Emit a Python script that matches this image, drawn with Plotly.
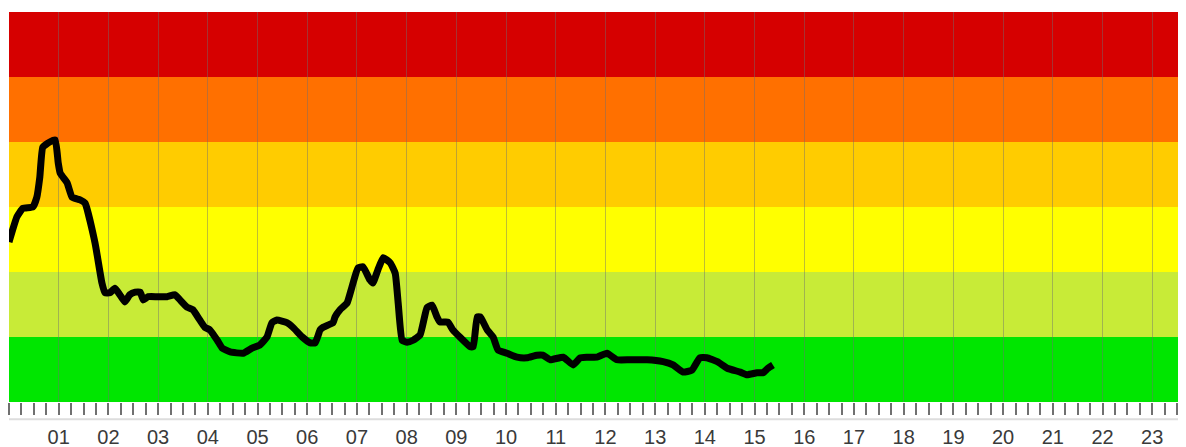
import plotly.graph_objects as go

# Hours of day (decimal) and index level (band units, 0..6)
hours = [0.00, 0.16, 0.28, 0.48, 0.56, 0.62, 0.68, 0.82, 0.93, 0.99, 1.03, 1.17, 1.27, 1.43, 1.53,
         1.73, 1.87, 1.93, 2.03, 2.13, 2.23, 2.33, 2.43, 2.54, 2.64, 2.70, 2.80, 2.98, 3.18, 3.34,
         3.44, 3.58, 3.70, 3.84, 3.94, 4.04, 4.19, 4.29, 4.45, 4.71, 4.89, 5.05, 5.19, 5.29, 5.39,
         5.59, 5.71, 5.90, 6.06, 6.16, 6.26, 6.32, 6.52, 6.56, 6.66, 6.80, 6.90, 7.02, 7.12, 7.26,
         7.32, 7.42, 7.53, 7.67, 7.77, 7.83, 7.91, 8.01, 8.13, 8.27, 8.41, 8.51, 8.61, 8.67, 8.83,
         8.93, 9.07, 9.28, 9.34, 9.42, 9.48, 9.62, 9.74, 9.84, 10.02, 10.22, 10.42, 10.62, 10.74,
         10.89, 11.15, 11.35, 11.49, 11.63, 11.83, 12.03, 12.23, 12.49, 12.84, 13.16, 13.36, 13.56,
         13.74, 13.90, 14.04, 14.25, 14.45, 14.71, 14.85, 15.05, 15.17, 15.27, 15.37]
levels = [2.46, 2.85, 2.98, 3.00, 3.15, 3.46, 3.92, 4.00, 4.03, 3.68, 3.52, 3.37, 3.15, 3.11, 3.06,
          2.45, 1.83, 1.68, 1.68, 1.75, 1.65, 1.54, 1.65, 1.69, 1.69, 1.57, 1.62, 1.62, 1.62, 1.65,
          1.57, 1.46, 1.42, 1.26, 1.15, 1.11, 0.95, 0.83, 0.77, 0.75, 0.83, 0.88, 1.00, 1.22, 1.26,
          1.22, 1.15, 1.00, 0.91, 0.91, 1.11, 1.15, 1.22, 1.31, 1.42, 1.52, 1.77, 2.06, 2.08, 1.88,
          1.83, 2.03, 2.22, 2.14, 1.98, 1.52, 0.95, 0.92, 0.95, 1.03, 1.45, 1.49, 1.31, 1.23, 1.23,
          1.11, 1.00, 0.85, 0.85, 1.31, 1.31, 1.11, 1.00, 0.80, 0.75, 0.69, 0.68, 0.72, 0.72,
          0.65, 0.69, 0.57, 0.68, 0.69, 0.69, 0.75, 0.65, 0.65, 0.65, 0.62, 0.57, 0.46,
          0.49, 0.68, 0.68, 0.62, 0.52, 0.46, 0.42, 0.45, 0.45, 0.52, 0.57]

band_edges = [0, 1, 2, 3, 4, 5, 6]
band_colors = ["#00E600", "#C8EB37", "#FFFF00", "#FFCC00", "#FF7000", "#D60000"]

tick_hours = list(range(1, 24))
tick_labels = [f"{h:02d}" for h in tick_hours]

fig = go.Figure()

for i, c in enumerate(band_colors):
    fig.add_shape(type="rect", xref="paper", yref="y", x0=0, x1=1,
                  y0=band_edges[i], y1=band_edges[i + 1],
                  fillcolor=c, line=dict(width=0), layer="below")

fig.add_trace(go.Scatter(x=hours, y=levels, mode="lines",
                         line=dict(color="black", width=7, shape="spline", smoothing=0.4),
                         hoverinfo="skip", showlegend=False))

# light baseline under the tick marks
fig.add_shape(type="line", xref="paper", yref="paper", x0=0, x1=1, y0=-0.044, y1=-0.044,
              line=dict(color="#dddddd", width=2))

fig.update_layout(
    width=1178, height=439,
    margin=dict(l=1, r=0, t=4, b=45),
    paper_bgcolor="white", plot_bgcolor="white",
    showlegend=False,
    xaxis=dict(range=[0, 23.68], tickvals=tick_hours, ticktext=tick_labels,
               showgrid=True, gridcolor="rgba(110,110,110,0.45)", gridwidth=1,
               ticks="outside", ticklen=12, tickwidth=2, tickcolor="#707070",
               minor=dict(dtick=0.25, tick0=0, ticks="outside", ticklen=12, tickwidth=2,
                          tickcolor="#707070", showgrid=False),
               tickfont=dict(family="Liberation Sans, Arial, sans-serif", size=20, color="#3a3a3a"),
               ticklabelstandoff=5,
               showline=False, zeroline=False, fixedrange=True),
    yaxis=dict(range=[0, 6], showgrid=False, showticklabels=False, ticks="",
               zeroline=False, showline=False, fixedrange=True),
)

fig.write_html("out.html")
